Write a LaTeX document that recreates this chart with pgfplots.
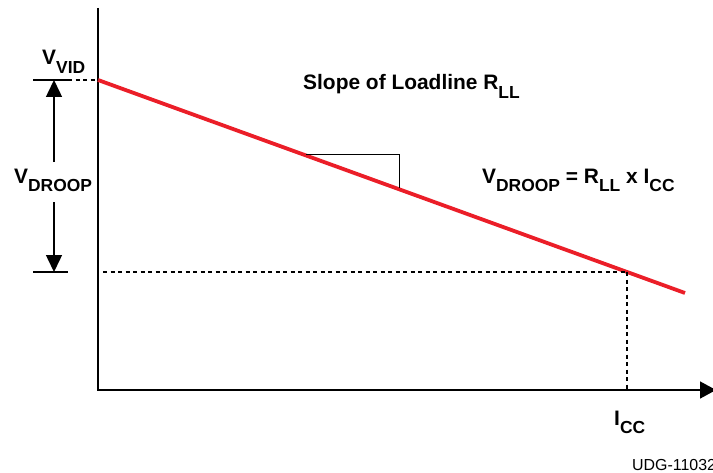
\documentclass[border=0pt]{standalone}
\usepackage{pgfplots}
\pgfplotsset{compat=1.18}
\usetikzlibrary{arrows.meta}
\usepackage{fontspec}
\setmainfont{Liberation Sans}
\definecolor{tired}{RGB}{235,30,40}
\newcommand\bigf{\fontsize{21}{24}\selectfont\bfseries}
\newcommand\sub[1]{\raisebox{-8.5bp}{\fontsize{17.5}{18}\selectfont\bfseries #1}}
\begin{document}
\begin{tikzpicture}
\begin{axis}[
  width=713bp, height=473bp, scale only axis,
  xmin=0, xmax=713, ymin=0, ymax=473, y dir=reverse,
  hide axis, clip=true,
]
% axes
\addplot[black, line width=1.5bp] coordinates {(98,8) (98,390) (700,390)};
\addplot[black, line width=1.5bp, -{Triangle[width=17bp,length=16bp]}] coordinates {(690,390) (716,390)};
% red loadline
\addplot[tired, line width=3.8bp] coordinates {(98,80) (685,293)};
% dotted guides
\addplot[black, line width=1.3bp, dash pattern=on 4bp off 3.5bp] coordinates {(68,80) (98,80)};
\addplot[black, line width=1.3bp, dash pattern=on 4bp off 3.5bp] coordinates {(103,272) (627,272)};
\addplot[black, line width=1.3bp, dash pattern=on 4bp off 3.5bp] coordinates {(627,272) (627,390)};
% tick bars
\addplot[black, line width=2bp] coordinates {(33,80) (68,80)};
\addplot[black, line width=2bp] coordinates {(33,272) (68,272)};
% droop arrows
\addplot[black, line width=1.5bp, -{Triangle[width=16bp,length=17bp]}] coordinates {(54,162) (54,80)};
\addplot[black, line width=1.5bp, -{Triangle[width=16bp,length=17bp]}] coordinates {(54,202) (54,272)};
% slope triangle
\addplot[black, line width=1bp] coordinates {(306,154) (399,154) (399,188)};
% labels
\node[anchor=base west, inner sep=0pt] at (axis cs:42,65) {\bigf V\sub{VID}};
\node[anchor=base west, inner sep=0pt] at (axis cs:14,183) {\bigf V\sub{DROOP}};
\node[anchor=base west, inner sep=0pt] at (axis cs:303,90) {\bigf Slope of Loadline R\sub{LL}};
\node[anchor=base west, inner sep=0pt] at (axis cs:482,183) {\bigf V\sub{DROOP} = R\sub{LL} x I\sub{CC}};
\node[anchor=base west, inner sep=0pt] at (axis cs:614,425) {\bigf I\sub{CC}};
\node[anchor=base west, inner sep=0pt] at (axis cs:632,470) {\fontsize{16}{18}\selectfont UDG-11032};
\end{axis}
\pgfresetboundingbox
\path[use as bounding box] (current axis.south west) rectangle (current axis.north east);
\end{tikzpicture}
\end{document}
